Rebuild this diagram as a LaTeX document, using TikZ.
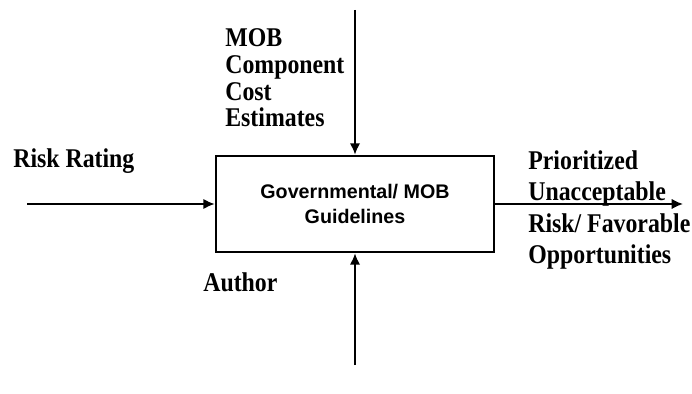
\documentclass[tikz,border=0pt]{standalone}
\usepackage{fontspec}
\usetikzlibrary{arrows.meta}
\newfontfamily\lblfont[FakeStretch=0.88]{Liberation Serif}
\newfontfamily\boxfont{Liberation Sans}
\tikzset{
  flow/.style={line width=1.1pt, -{Latex[length=6.5pt,width=6pt]}},
  lbl/.style={inner sep=0pt, anchor=north west, align=left,
    font=\lblfont\bfseries\fontsize{15.4}{15.3}\selectfont},
}
\begin{document}
\begin{tikzpicture}[x=0.02cm, y=-0.02cm] % pixel grid
      \useasboundingbox (0,0) rectangle (692,394);

      % activity box
      \node[draw, line width=1.5pt, minimum width=278*0.02cm, minimum height=96*0.02cm,
        align=center, font=\boxfont\bfseries\fontsize{11.2}{14}\selectfont]
        (guide) at (355,204) {Governmental/ MOB\\Guidelines};

      % free ends of the arrows
      \coordinate (inp) at (27,204);
      \coordinate (out) at (683,204);
      \coordinate (ctl) at (355,10);
      \coordinate (mech) at (355,365);

      % input, output, control, mechanism
      \draw[flow] (inp) -- (guide.west);
      \draw[flow] (guide.east) -- (out);
      \draw[flow] (ctl) -- (guide.north);
      \draw[flow] (mech) -- (guide.south);

      % labels
      \node[lbl] (cost) at (225,28) {MOB\\Component\\Cost\\Estimates};
      \node[lbl] (risk) at (13,148) {Risk Rating};
      \node[lbl] (auth) at (203,272) {Author};
      \node[lbl, font=\lblfont\bfseries\fontsize{15.4}{18}\selectfont]
        (prio) at (528,150) {Prioritized\\Unacceptable\\Risk/ Favorable\\Opportunities};
    \end{tikzpicture}
\end{document}
